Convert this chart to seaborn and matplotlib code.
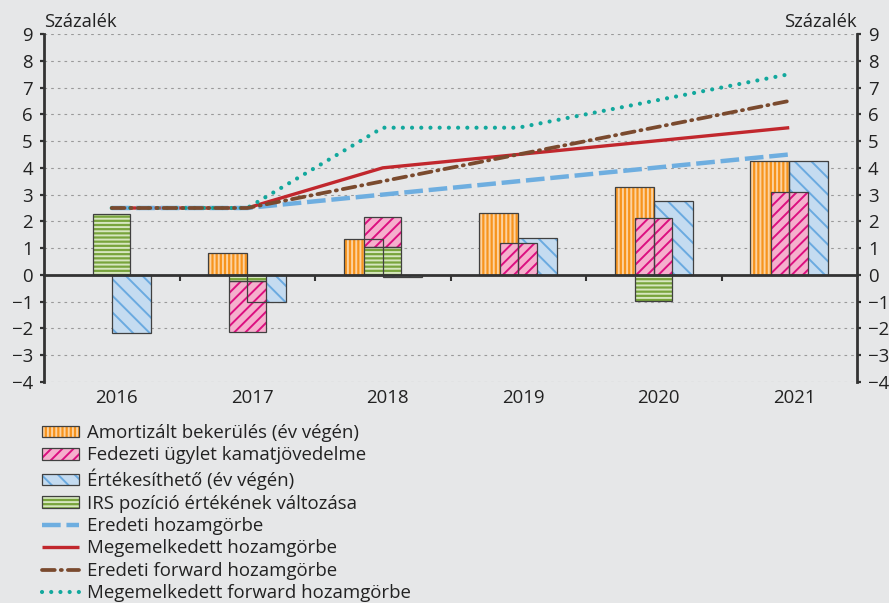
import numpy as np
import matplotlib.pyplot as plt
import seaborn as sns
from matplotlib.patches import Patch
from matplotlib.lines import Line2D
from matplotlib.transforms import ScaledTranslation

# --- data ---
years = ["2016", "2017", "2018", "2019", "2020", "2021"]

amortized = [0.0, 0.81, 1.33, 2.33, 3.27, 4.26]          # Amortizált bekerülés
hedge_income = [0.0, -1.92, 1.11, 1.18, 2.12, 3.11]      # Fedezeti ügylet kamatjövedelme
available_for_sale = [-2.18, -1.0, -0.09, 1.37, 2.76, 4.26]  # Értékesíthető
irs_change = [2.27, -0.22, 1.06, 0.0, -0.96, 0.0]        # IRS pozíció értékének változása

curve_orig = [2.5, 2.5, 3.0, 3.5, 4.0, 4.5]
curve_up = [2.5, 2.5, 4.0, 4.5, 5.0, 5.5]
fwd_orig = [2.5, 2.5, 3.5, 4.5, 5.5, 6.5]
fwd_up = [2.5, 2.5, 5.5, 5.5, 6.5, 7.5]

bar_labels = ["Amortizált bekerülés (év végén)", "Fedezeti ügylet kamatjövedelme",
              "Értékesíthető (év végén)", "IRS pozíció értékének változása"]
line_labels = ["Eredeti hozamgörbe", "Megemelkedett hozamgörbe",
               "Eredeti forward hozamgörbe", "Megemelkedett forward hozamgörbe"]

BG = "#e6e7e8"
DARK = "#333333"
OUTLINE = "#404040"
TEXT = "#222222"

# fill, hatch colour, hatch
STYLE_ORANGE = ("#f7941d", "#fcd2a0", "||||")
STYLE_PINK = ("#f5b0cd", "#dc0f80", "///")
STYLE_BLUE = ("#c4dbf0", "#6aaae0", "\\\\")
STYLE_GREEN = ("#78a43c", "#d6e6bf", "----")


def setup_style():
    sns.set_theme(style="white")
    plt.rcParams["font.family"] = ["Open Sans", "DejaVu Sans"]
    plt.rcParams["hatch.linewidth"] = 1.4
    plt.rcParams["axes.unicode_minus"] = True


def hatched_bar(ax, x, h, width, style, bottom=None):
    fill, hcol, hatch = style
    h = np.asarray(h, dtype=float)
    x = np.asarray(x, dtype=float)
    bottom = np.zeros_like(h) if bottom is None else np.asarray(bottom, dtype=float)
    m = h != 0
    ax.bar(x[m], h[m], width, bottom=bottom[m], color=fill, edgecolor=hcol,
           hatch=hatch, linewidth=0, zorder=2)
    ax.bar(x[m], h[m], width, bottom=bottom[m], fill=False, edgecolor=OUTLINE,
           linewidth=0.9, zorder=2.1)


def legend_patch(style):
    fill, hcol, hatch = style
    return (Patch(facecolor=fill, edgecolor=hcol, hatch=hatch, linewidth=0),
            Patch(fill=False, edgecolor=OUTLINE, linewidth=0.9))


setup_style()
fig = plt.figure(figsize=(8.89, 6.03), dpi=100, facecolor=BG)
ax = fig.add_axes([44 / 889, 1 - 382 / 603, (857 - 44) / 889, (382 - 34) / 603])
ax.set_facecolor(BG)

x = np.arange(len(years))
w1 = 0.288
w2 = 0.272

# primary bars: amortized / available-for-sale side by side
hatched_bar(ax, x - w1 / 2, amortized, w1, STYLE_ORANGE)
hatched_bar(ax, x + w1 / 2, available_for_sale, w1, STYLE_BLUE)

# secondary bars: IRS change with hedge income stacked on it
hatched_bar(ax, x, irs_change, w2, STYLE_GREEN)
pink_bottom = [g if g * p > 0 else 0.0 for g, p in zip(irs_change, hedge_income)]
hatched_bar(ax, x, hedge_income, w2, STYLE_PINK, bottom=pink_bottom)

# lines
line_specs = [
    (curve_up, dict(color="#c1272d", lw=2.4, linestyle="-", solid_capstyle="butt"), 3),
    (curve_orig, dict(color="#6eaee0", lw=3.2, linestyle=(0, (4.2, 1.3)), dash_capstyle="butt"), 3.1),
    (fwd_up, dict(color="#12a89d", lw=3.0, linestyle=(0, (0.01, 2.2)), dash_capstyle="round"), 3.2),
    (fwd_orig, dict(color="#7a4a2e", lw=2.7, linestyle=(0, (3.4, 1.6, 0.3, 1.6)), dash_capstyle="round"), 3.3),
]
for vals, kw, z in line_specs:
    sns.lineplot(x=x, y=vals, ax=ax, zorder=z, **kw)

# axes
ax.set_xlim(-0.5, 5.5)
ax.set_ylim(-4, 9)
ax.set_yticks(range(-4, 10))
ax.yaxis.grid(True, color="#9a9a9a", lw=0.8, linestyle=(0, (2.4, 3.6)))
ax.xaxis.grid(False)
ax.set_axisbelow(True)

for side in ["left", "right"]:
    ax.spines[side].set_color(DARK)
    ax.spines[side].set_linewidth(2.0)
ax.spines["top"].set_visible(False)
ax.spines["bottom"].set_position(("data", 0))
ax.spines["bottom"].set_color(DARK)
ax.spines["bottom"].set_linewidth(2.0)
ax.spines["bottom"].set_zorder(2.5)

ax.set_xticks(x[:-1] + 0.5)
ax.set_xticklabels([])
ax.tick_params(axis="x", direction="out", length=4.3, width=1.5, color=DARK, bottom=True)
ax.tick_params(axis="y", direction="out", length=3, width=1.6, color=DARK,
               left=True, right=True, labelleft=True, labelright=True,
               labelsize=13.4, pad=5, labelcolor=TEXT)

# year labels along the bottom edge
sec = ax.secondary_xaxis(0.0)
sec.set_xticks(x)
sec.set_xticklabels(years)
sec.tick_params(length=0, pad=5, labelsize=13.4, labelcolor=TEXT)
sec.spines["bottom"].set_visible(False)
for lab in sec.get_xticklabels():
    lab.set_transform(lab.get_transform() + ScaledTranslation(5 / 100, 0, fig.dpi_scale_trans))

fig.text(44 / 889, 1 - 27 / 603, "Százalék", fontsize=13.2, ha="left", va="baseline", color=TEXT)
fig.text(857 / 889, 1 - 27 / 603, "Százalék", fontsize=13.2, ha="right", va="baseline", color=TEXT)

# legend
handles = [legend_patch(STYLE_ORANGE), legend_patch(STYLE_PINK),
           legend_patch(STYLE_BLUE), legend_patch(STYLE_GREEN)]
for vals, kw, z in [line_specs[1], line_specs[0], line_specs[3], line_specs[2]]:
    handles.append(Line2D([], [], **kw))
fig.legend(handles, bar_labels + line_labels, loc="upper left",
           bbox_to_anchor=(42 / 889, 1 - 424 / 603), frameon=False, fontsize=13.4,
           handlelength=2.0, handleheight=0.58, handletextpad=0.42, labelspacing=0.235,
           borderpad=0, borderaxespad=0, labelcolor=TEXT)

fig.savefig("out.png", dpi=100, facecolor=BG)
